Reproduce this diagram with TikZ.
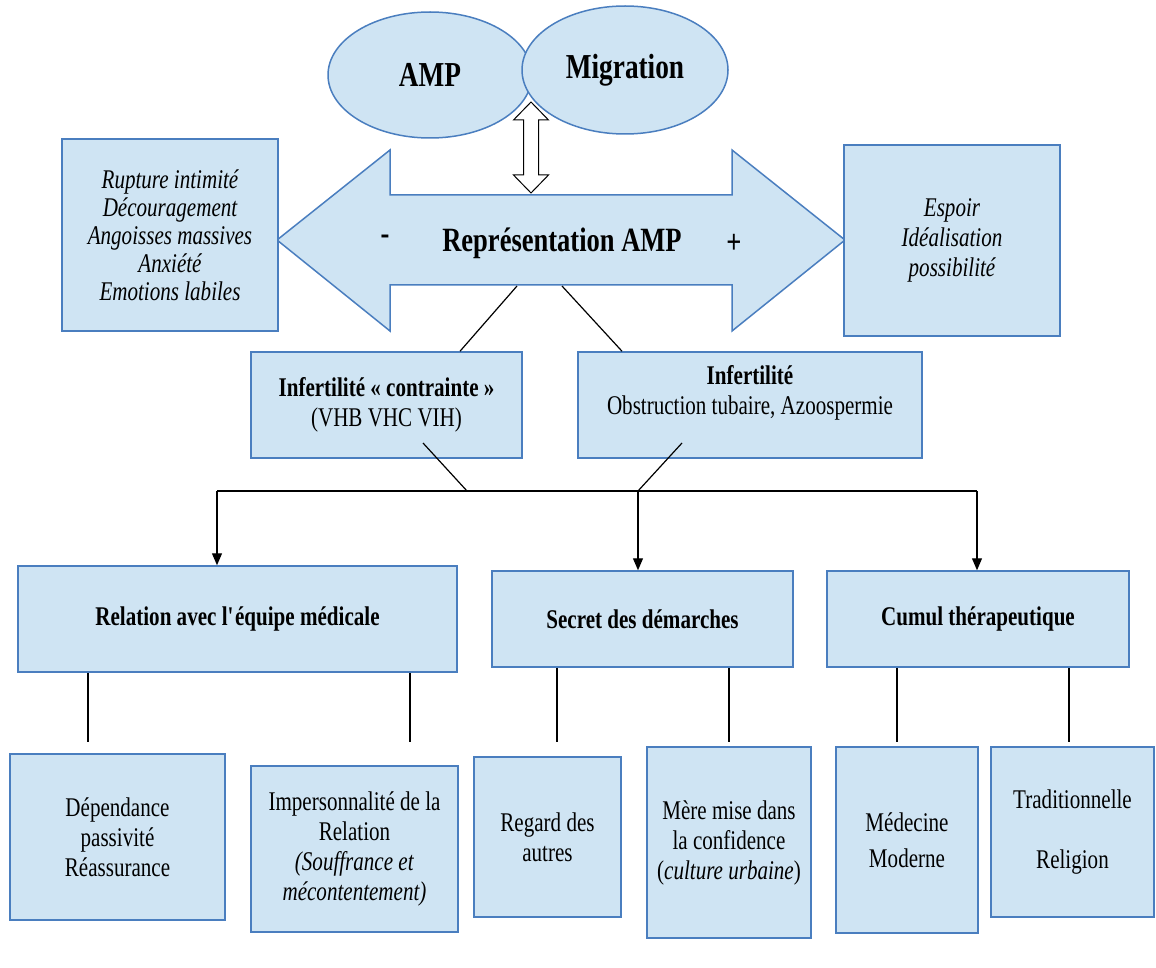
\documentclass[tikz,border=0pt]{standalone}
\usepackage{fontspec}
\setmainfont[FakeStretch=0.78]{Liberation Serif}
\usepackage{tikz}
\usetikzlibrary{shapes.geometric,arrows.meta}
\definecolor{boxfill}{HTML}{CFE4F3}
\definecolor{boxline}{HTML}{4A7EBF}
\tikzset{
  box/.style={draw=boxline, fill=boxfill, line width=1.5pt, align=center, inner sep=0pt, font=\fontsize{27}{30}\selectfont},
  note/.style={box, font=\fontsize{27}{28}\selectfont\itshape},
  oval/.style={ellipse, draw=boxline, fill=boxfill, line width=1.5pt, inner sep=0pt, font=\fontsize{35}{40}\selectfont\bfseries},
  bigarrow/.style={draw=boxline, fill=boxfill, line width=1.5pt, line join=miter},
  hollow/.style={draw=black, fill=white, line width=1pt, line join=miter},
  title/.style={font=\fontsize{34}{40}\selectfont\bfseries},
  link/.style={draw=black, line width=1.2pt},
  feed/.style={link, -{Triangle[length=12pt,width=10pt]}},
}

\begin{document}
\begin{tikzpicture}[x=1pt,y=-1pt]
  \useasboundingbox (0,0) rectangle (1156,968);

  \node[oval, minimum width=204pt, minimum height=126pt] (amp) at (430,75) {AMP};
  \node[oval, minimum width=206pt, minimum height=128pt] (mig) at (625,70) {Migration};

  \coordinate (up) at (531,102);
  \coordinate (dn) at (531,193);
  \draw[hollow] (up) -- ++(17.5,18) -- ++(-10,0) -- ++(0,55) -- ++(10,0) -- (dn)
    -- ++(-17.5,-18) -- ++(10,0) -- ++(0,-55) -- ++(-10,0) -- cycle;

  \coordinate (tipL) at (277,240);
  \coordinate (tipR) at (845,240);
  \draw[bigarrow] (tipL) -- (390,150) -- (390,195) -- (732,195) -- (732,150) -- (tipR)
    -- (732,331) -- (732,285) -- (390,285) -- (390,331) -- cycle;
  \node[title] (minus) at (385,240) {-};
  \node[title] (rep) at (562,243) {Représentation AMP};
  \node[title] (plus) at (734,244) {+};

  \node[note, minimum width=216pt, minimum height=192pt] (neg) at (170,235)
    {Rupture intimité\\Découragement\\Angoisses massives\\Anxiété\\Emotions labiles};
  \node[note, minimum width=216pt, minimum height=191pt, font=\fontsize{27}{30}\selectfont\itshape] (pos) at (952,240.5)
    {Espoir\\Idéalisation\\possibilité};

  \node[box, minimum width=271pt, minimum height=106pt] (cont) at (386.5,405)
    {\textbf{Infertilité « contrainte »}\\(VHB VHC VIH)};
  \node[box, minimum width=344pt, minimum height=106pt] (inf) at (750,405)
    {\textbf{Infertilité}\\Obstruction tubaire, Azoospermie\\\mbox{}};

  \node[box, minimum width=439pt, minimum height=106pt, font=\fontsize{27}{30}\selectfont\bfseries] (rel) at (237.5,619)
    {Relation avec l\textquotesingle équipe médicale};
  \node[box, minimum width=301pt, minimum height=96pt, font=\fontsize{27}{30}\selectfont\bfseries] (sec) at (642.5,619)
    {Secret des démarches};
  \node[box, minimum width=302pt, minimum height=96pt, font=\fontsize{27}{30}\selectfont\bfseries] (cum) at (978,619)
    {Cumul thérapeutique};

  \node[box, minimum width=215pt, minimum height=166pt] (dep) at (117.5,837)
    {Dépendance\\passivité\\Réassurance};
  \node[box, minimum width=207pt, minimum height=166pt] (imp) at (354.5,849)
    {Impersonnalité de la\\Relation\\\textit{(Souffrance et}\\\textit{mécontentement)}};
  \node[box, minimum width=147pt, minimum height=160pt] (reg) at (547.5,837)
    {Regard des\\autres};
  \node[box, minimum width=164pt, minimum height=191pt] (mere) at (729,842.5)
    {Mère mise dans\\la confidence\\(\textit{culture urbaine})};
  \node[box, minimum width=142pt, minimum height=186pt] (med) at (907,840)
    {Médecine\\[6pt]Moderne};
  \node[box, minimum width=163pt, minimum height=170pt] (trad) at (1072.5,832)
    {Traditionnelle\\[30pt]Religion};

  \coordinate (a1) at (517,286);
  \coordinate (a2) at (562,286);
  \coordinate (k1) at (460,0);
  \coordinate (k2) at (622,0);
  \draw[link] (a1) -- (cont.north -| k1);
  \draw[link] (a2) -- (inf.north -| k2);

  \coordinate (c1) at (423,443);
  \coordinate (c2) at (682,443);
  \coordinate (j1) at (467,491);
  \coordinate (j2) at (638,491);
  \coordinate (bl) at (217,491);
  \coordinate (br) at (977,491);
  \draw[link] (c1) -- (j1);
  \draw[link] (c2) -- (j2);
  \draw[link] (bl) -- (br);
  \draw[feed] (bl) -- (bl |- rel.north);
  \draw[feed] (j2) -- (j2 |- sec.north);
  \draw[feed] (br) -- (br |- cum.north);

  \coordinate (e1) at (88,742);
  \coordinate (e2) at (410,742);
  \coordinate (e3) at (557,742);
  \coordinate (e4) at (729,742);
  \coordinate (e5) at (897,742);
  \coordinate (e6) at (1069,742);
  \draw[link] (rel.south -| e1) -- (e1);
  \draw[link] (rel.south -| e2) -- (e2);
  \draw[link] (sec.south -| e3) -- (e3);
  \draw[link] (sec.south -| e4) -- (e4);
  \draw[link] (cum.south -| e5) -- (e5);
  \draw[link] (cum.south -| e6) -- (e6);
\end{tikzpicture}
\end{document}
